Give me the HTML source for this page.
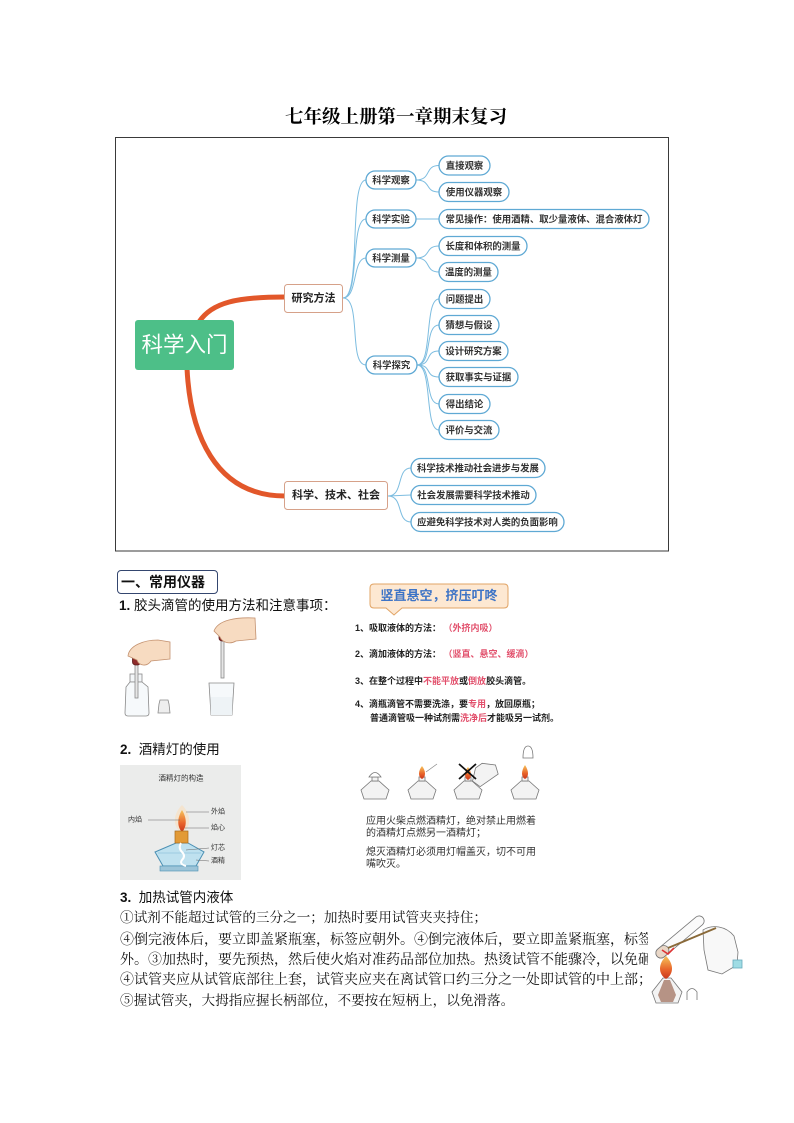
<!DOCTYPE html>
<html><head><meta charset="utf-8">
<style>
html,body{margin:0;padding:0;background:#fff;}
body{width:794px;height:1123px;position:relative;overflow:hidden;font-family:"Liberation Sans","Noto Sans CJK SC",sans-serif;color:#111;}
.a{position:absolute;white-space:nowrap;}
.li{position:absolute;left:355px;font-size:9px;font-weight:bold;line-height:12px;white-space:nowrap;color:#222;}
.r{color:#e2506c;}
.s3{position:absolute;left:120px;width:528px;overflow:hidden;white-space:nowrap;font-family:"Liberation Serif","Noto Serif CJK SC",serif;line-height:20px;color:#111;}
</style></head><body>
<svg width="794" height="1123" style="position:absolute;left:0;top:0" xmlns="http://www.w3.org/2000/svg">
<defs>
<linearGradient id="fl" x1="0" y1="0" x2="0" y2="1"><stop offset="0" stop-color="#f6c35a"/><stop offset="0.6" stop-color="#e8632a"/><stop offset="1" stop-color="#c8371c"/></linearGradient>
</defs>
<!-- title -->
<text x="396" y="118" text-anchor="middle" dominant-baseline="central" font-family="Liberation Serif, Noto Serif CJK SC, serif" font-weight="bold" font-size="18.5" fill="#000">七年级上册第一章期末复习</text>
<!-- frame -->
<rect x="115.5" y="137.5" width="553" height="413.5" fill="#fff" stroke="#3a3a3a" stroke-width="1"/>
<!-- orange branches -->
<path d="M199,322 C212,302 238,297 285,297" fill="none" stroke="#e2572a" stroke-width="5"/>
<path d="M187,368 C190,432 214,496 285,496" fill="none" stroke="#e2572a" stroke-width="5"/>
<!-- central -->
<rect x="135" y="320" width="99" height="50" rx="3" fill="#4dbf88"/>
<text x="184.5" y="345" text-anchor="middle" dominant-baseline="central" font-size="21.5" fill="#fff" font-family="Liberation Sans, Noto Sans CJK SC, sans-serif">科学入门</text>
<!-- main branch boxes -->
<rect x="284.5" y="284.5" width="58" height="28" rx="3" fill="#fff" stroke="#d6a189" stroke-width="1"/>
<text x="313.5" y="298.5" text-anchor="middle" dominant-baseline="central" font-size="11" font-weight="bold" fill="#222">研究方法</text>
<rect x="284.5" y="481.5" width="103" height="28" rx="3" fill="#fff" stroke="#d6a189" stroke-width="1"/>
<text x="336" y="495.5" text-anchor="middle" dominant-baseline="central" font-size="11" font-weight="bold" fill="#222">科学、技术、社会</text>
<!-- blue connectors -->
<g fill="none" stroke="#7dbde0" stroke-width="1">
<path d="M343,298 C362,298 348,180 366,180"/>
<path d="M343,298 C360,298 350,219 366,219"/>
<path d="M343,298 C358,298 352,258 366,258"/>
<path d="M343,298 C362,298 348,365 366,365"/>
<path d="M416,180 C432,180 424,165.5 439,165.5"/>
<path d="M416,180 C432,180 424,192 439,192"/>
<path d="M416,219 L439,219"/>
<path d="M416,258 C432,258 424,246 439,246"/>
<path d="M416,258 C432,258 424,272 439,272"/>
<path d="M417,365 C433,365 424,299 439,299"/>
<path d="M417,365 C433,365 424,325 439,325"/>
<path d="M417,365 C433,365 424,351 439,351"/>
<path d="M417,365 C433,365 424,377 439,377"/>
<path d="M417,365 C433,365 424,404 439,404"/>
<path d="M417,365 C433,365 424,430 439,430"/>
<path d="M388,496 C404,496 396,468 411,468"/>
<path d="M388,496 L411,495"/>
<path d="M388,496 C404,496 396,522 411,522"/>
</g>
<!-- level nodes -->
<g stroke="#5fa9d4" stroke-width="1.3" fill="#fff">
<rect x="366" y="171" width="50" height="18" rx="9"/>
<rect x="366" y="210" width="50" height="18" rx="9"/>
<rect x="366" y="249" width="50" height="18" rx="9"/>
<rect x="366" y="356" width="51" height="18" rx="9"/>
<rect x="439" y="156" width="51" height="19" rx="9.5"/>
<rect x="439" y="182.5" width="70" height="19" rx="9.5"/>
<rect x="439" y="209.5" width="210" height="19" rx="9.5"/>
<rect x="439" y="236.5" width="88" height="19" rx="9.5"/>
<rect x="439" y="262.5" width="59" height="19" rx="9.5"/>
<rect x="439" y="289.5" width="51" height="19" rx="9.5"/>
<rect x="439" y="315.5" width="60" height="19" rx="9.5"/>
<rect x="439" y="341.5" width="69" height="19" rx="9.5"/>
<rect x="439" y="367.5" width="79" height="19" rx="9.5"/>
<rect x="439" y="394.5" width="51" height="19" rx="9.5"/>
<rect x="439" y="420.5" width="60" height="19" rx="9.5"/>
<rect x="411" y="458.5" width="134" height="19" rx="9.5"/>
<rect x="411" y="485.5" width="125" height="19" rx="9.5"/>
<rect x="411" y="512.5" width="153" height="19" rx="9.5"/>
</g>
<g font-size="9.4" font-weight="bold" fill="#333" text-anchor="middle" dominant-baseline="central" font-family="Liberation Sans, Noto Sans CJK SC, sans-serif">
<text x="391" y="180">科学观察</text>
<text x="391" y="219">科学实验</text>
<text x="391" y="258">科学测量</text>
<text x="391.5" y="365">科学探究</text>
<text x="464.5" y="165.5">直接观察</text>
<text x="474" y="192">使用仪器观察</text>
<text x="544" y="219">常见操作：使用酒精、取少量液体、混合液体灯</text>
<text x="483" y="246">长度和体积的测量</text>
<text x="468.5" y="272">温度的测量</text>
<text x="464.5" y="299">问题提出</text>
<text x="469" y="325">猜想与假设</text>
<text x="473.5" y="351">设计研究方案</text>
<text x="478.5" y="377">获取事实与证据</text>
<text x="464.5" y="404">得出结论</text>
<text x="469" y="430">评价与交流</text>
<text x="478" y="468">科学技术推动社会进步与发展</text>
<text x="473.5" y="495">社会发展需要科学技术推动</text>
<text x="487.5" y="522">应避免科学技术对人类的负面影响</text>
</g>

<!-- callout -->
<path d="M374,584 H504 Q508,584 508,588 V604 Q508,608 504,608 H402 L394,615 L386,608 H374 Q370,608 370,604 V588 Q370,584 374,584 Z" fill="#fde8d2" stroke="#e1a465" stroke-width="1"/>
<text x="439" y="595.5" text-anchor="middle" dominant-baseline="central" font-size="13" font-weight="bold" fill="#3e74c6" font-family="Liberation Sans, Noto Sans CJK SC, sans-serif">竖直悬空，挤压叮咚</text>

<!-- dropper 1 -->
<g stroke="#8a8a8a" stroke-width="0.8">
<rect x="130" y="674" width="12" height="8" fill="#f3f6f8"/>
<path d="M130,682 L126,687 L125,713 Q125,716 128,716 L146,716 Q149,716 149,713 L148,687 L142,682 Z" fill="#f6f9fb"/>
<rect x="135" y="660" width="3" height="38" fill="#e6e6e6"/>
<rect x="132.5" y="651" width="8" height="14" rx="3" fill="#8e2b2b" stroke="#5a1a1a"/>
<path d="M128,656 C129,646 143,640 158,640 L170,642 L170,659 L151,661 C147,667 139,666 137,660 Z" fill="#f7dbc1" stroke="#c49270"/>
<path d="M159,704 L160,700 L168,700 L169,704 L170,713 L158,713 Z" fill="#eee"/>
</g>
<!-- dropper 2 -->
<g stroke="#8a8a8a" stroke-width="0.8">
<path d="M209,683 L234,683 L232,715 L211,715 Z" fill="#f6f9fb"/>
<path d="M210.5,697 L232.5,697 L232,715 L211,715 Z" fill="#eef3f6" stroke="none"/>
<rect x="221" y="638" width="3" height="40" fill="#e6e6e6"/>
<rect x="219" y="628" width="7" height="13" rx="3" fill="#8e2b2b" stroke="#5a1a1a"/>
<path d="M214,631 C218,620 236,617 255,618 L256,639 L236,641 C229,645 222,642 220,637 Z" fill="#f7dbc1" stroke="#c49270"/>
</g>

<!-- lamp structure image -->
<rect x="120" y="765" width="121" height="115" fill="#ebeceb"/>
<text x="181" y="778" text-anchor="middle" dominant-baseline="central" font-size="7.5" fill="#333">酒精灯的构造</text>
<path d="M182,805 C172,815 173,828 182,833 C191,828 192,815 182,805 Z" fill="#f6e2c8" opacity="0.8"/>
<path d="M182,810 C177,818 177,827 182,832 C187,827 187,818 182,810 Z" fill="url(#fl)"/>
<path d="M176,843 L188,843 L204,852 L196,866 L163,866 L155,852 Z" fill="#bfe1ef" stroke="#4a8fb3" stroke-width="1"/>
<path d="M158,853 L201,853" stroke="#7fb7d3" stroke-width="0.6"/>
<rect x="160" y="866" width="38" height="5" fill="#9cc4d8" stroke="#4a8fb3" stroke-width="0.6"/>
<rect x="175" y="831" width="13" height="12" fill="#e29a36" stroke="#a86a1a" stroke-width="0.7"/>
<path d="M181,843 Q178,848 182,852 Q186,856 182,860 Q179,864 186,866" fill="none" stroke="#fff" stroke-width="2"/>
<g stroke="#666" stroke-width="0.5">
<line x1="186" y1="812" x2="209" y2="812"/>
<line x1="185" y1="828" x2="209" y2="828"/>
<line x1="186" y1="850" x2="209" y2="848"/>
<line x1="196" y1="860" x2="209" y2="861"/>
<line x1="148" y1="820" x2="180" y2="820"/>
</g>
<g font-size="7" fill="#333" dominant-baseline="central">
<text x="211" y="812">外焰</text><text x="211" y="828">焰心</text><text x="211" y="848">灯芯</text><text x="211" y="861">酒精</text><text x="128" y="820">内焰</text>
</g>

<!-- four lamps -->
<g stroke="#777" stroke-width="0.8" fill="#f3f3f3">
<g transform="translate(375,790)"><path d="M-4,-9 L4,-9 L14,0 L11,9 L-11,9 L-14,0 Z"/><rect x="-3" y="-13" width="6" height="4"/><path d="M-6,-13 Q0,-22 6,-13 Z" fill="#fff"/></g>
<g transform="translate(422,790)"><path d="M-4,-9 L4,-9 L14,0 L11,9 L-11,9 L-14,0 Z"/><rect x="-3" y="-13" width="6" height="4"/></g>
<g transform="translate(468,790)"><path d="M-4,-9 L4,-9 L14,0 L11,9 L-11,9 L-14,0 Z"/><rect x="-3" y="-13" width="6" height="4"/></g>
<g transform="translate(525,790)"><path d="M-4,-9 L4,-9 L14,0 L11,9 L-11,9 L-14,0 Z"/><rect x="-3" y="-13" width="6" height="4"/></g>
<g transform="translate(484,773) rotate(-35)"><path d="M-4,-9 L4,-9 L14,0 L11,9 L-11,9 L-14,0 Z"/></g>
<path d="M523,758 Q523,746 528,746 Q533,746 533,758 Z" fill="#fff"/>
</g>
<path d="M422,766 C418,771 418,777 422,779 C426,777 426,771 422,766 Z" fill="url(#fl)"/>
<line x1="426" y1="772" x2="437" y2="764" stroke="#888" stroke-width="0.7"/>
<path d="M468,767 C464,772 464,778 468,780 C472,778 472,772 468,767 Z" fill="url(#fl)"/>
<path d="M525,765 C521,771 521,777 525,779 C529,777 529,771 525,765 Z" fill="url(#fl)"/>
<path d="M459,764 L476,779 M476,764 L459,779" stroke="#111" stroke-width="1.8"/>

<!-- test tube heating image -->
<g stroke="#777" stroke-width="0.8">
<path d="M703,930 C712,924 726,926 734,936 L738,952 L737,965 L722,974 L708,970 L704,950 Z" fill="#f8f8f8"/>
<rect x="733" y="960" width="9" height="8" fill="#9fdce4" stroke="#6ab"/>
<g transform="translate(680,937) rotate(-40)"><rect x="-30" y="-5" width="60" height="10" rx="5" fill="#fafafa"/><rect x="-30" y="-5" width="14" height="10" rx="5" fill="#e9d7c7"/></g>
<line x1="668" y1="948" x2="716" y2="928" stroke="#8a6a3a" stroke-width="2"/>
<path d="M663,978 L671,978 L682,992 L678,1003 L656,1003 L652,992 Z" fill="#f3f3f3"/>
<path d="M664,980 L670,980 L676,995 L673,1002 L661,1002 L658,995 Z" fill="#9b6a55" stroke="none" opacity="0.7"/>
<path d="M687,1000 L687,992 Q692,985 697,992 L697,1000" fill="#fff"/>
</g>
<path d="M666,956 C658,964 658,974 666,979 C674,974 674,964 666,956 Z" fill="url(#fl)"/>
<path d="M662,950 L668,954 L674,948" fill="none" stroke="#d33" stroke-width="1.6"/>
</svg>

<div class="a" style="left:117px;top:570px;width:101px;height:24px;box-sizing:border-box;border:1px solid #34466f;border-radius:4px;font-size:14px;font-weight:bold;line-height:22px;padding-left:3px;">一、常用仪器</div>
<div class="a" style="left:119px;top:597px;font-size:13.5px;line-height:18px;"><b>1.</b>&nbsp;胶头滴管的使用方法和注意事项：</div>

<div class="li" style="top:622px;">1、吸取液体的方法：&nbsp;<span class="r">（外挤内吸）</span></div>
<div class="li" style="top:648px;">2、滴加液体的方法：&nbsp;<span class="r">（竖直、悬空、缓滴）</span></div>
<div class="li" style="top:675px;">3、在整个过程中<span class="r">不能平放</span>或<span class="r">倒放</span>胶头滴管。</div>
<div class="li" style="top:698px;">4、滴瓶滴管不需要洗涤，要<span class="r">专用</span>，放回原瓶；</div>
<div class="li" style="top:712px;left:370px;">普通滴管吸一种试剂需<span class="r">洗净后</span>才能吸另一试剂。</div>

<div class="a" style="left:120px;top:741px;font-size:13.5px;line-height:18px;"><b>2.</b>&nbsp;&nbsp;酒精灯的使用</div>

<div class="a" style="left:366px;top:816px;font-size:10px;line-height:12px;color:#333;">应用火柴点燃酒精灯，绝对禁止用燃着<br>的酒精灯点燃另一酒精灯；</div>
<div class="a" style="left:366px;top:847px;font-size:10px;line-height:12px;color:#333;">熄灭酒精灯必须用灯帽盖灭，切不可用<br>嘴吹灭。</div>

<div class="a" style="left:120px;top:889px;font-size:13.5px;line-height:18px;"><b>3.</b>&nbsp;&nbsp;加热试管内液体</div>
<div class="s3" style="top:908px;font-size:13.6px;">①试剂不能超过试管的三分之一；加热时要用试管夹夹持住；</div>
<div class="s3" style="top:931px;font-size:14px;">④倒完液体后，要立即盖紧瓶塞，标签应朝外。④倒完液体后，要立即盖紧瓶塞，标签应朝</div>
<div class="s3" style="top:951px;font-size:14px;">外。③加热时，要先预热，然后使火焰对准药品部位加热。热烫试管不能骤冷，以免砸破</div>
<div class="s3" style="top:971px;font-size:14px;">④试管夹应从试管底部往上套，试管夹应夹在离试管口约三分之一处即试管的中上部；</div>
<div class="s3" style="top:991px;font-size:13.6px;">⑤握试管夹，大拇指应握长柄部位，不要按在短柄上，以免滑落。</div>
</body></html>
